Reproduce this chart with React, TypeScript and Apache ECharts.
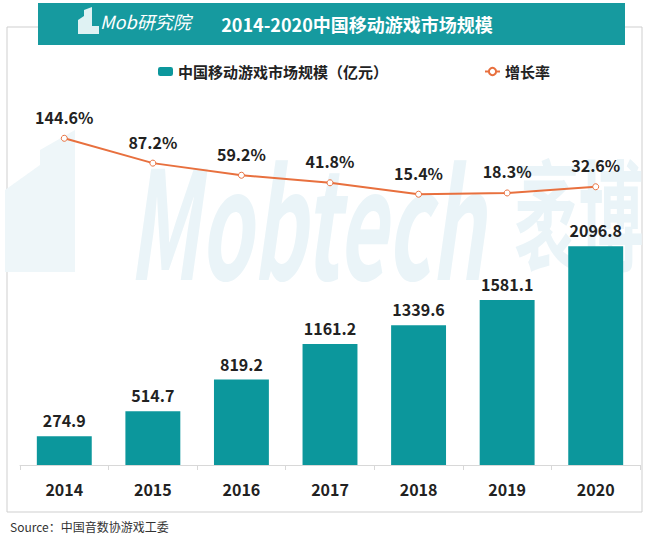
import React, { useEffect, useRef } from "react";
import * as echarts from "echarts";

const years = ["2014", "2015", "2016", "2017", "2018", "2019", "2020"];
const marketSize = [274.9, 514.7, 819.2, 1161.2, 1339.6, 1581.1, 2096.8];
const growthRate = [144.6, 87.2, 59.2, 41.8, 15.4, 18.3, 32.6];
const barName = "中国移动游戏市场规模（亿元）";
const lineName = "增长率";
const titleText = "2014-2020中国移动游戏市场规模";
const sourceText = "Source：中国音数协游戏工委";

const FONT = "'Noto Sans CJK SC', 'Noto Sans', sans-serif";
const TEAL = "#0c979c";
const ORANGE = "#e8703e";

export default function App() {
  const ref = useRef<HTMLDivElement>(null);
  useEffect(() => {
    if (!ref.current) return;
    const chart = echarts.init(ref.current, undefined, { renderer: "svg" });
    chart.setOption({
      animation: false,
      backgroundColor: "#ffffff",
      textStyle: { fontFamily: FONT },
      graphic: [
        {
          type: "rect",
          z: -10,
          shape: { x: 7, y: 27, width: 635, height: 485 },
          style: { fill: "#fff", stroke: "#cfcfcf", lineWidth: 1 },
        },
        {
          type: "polygon",
          z: -5,
          shape: { points: [[5, 272], [5, 190], [40, 165], [40, 150], [75, 130], [75, 272]] },
          style: { fill: "#eef6f9" },
        },
        {
          type: "text",
          z: -5,
          x: 128,
          y: 140,
          scaleX: 0.56,
          style: {
            text: "Mobtech",
            fontSize: 150,
            fontWeight: "bold",
            fontStyle: "italic",
            fontFamily: FONT,
            fill: "#eaf4f8",
          },
        },
        {
          type: "text",
          z: -5,
          x: 514,
          y: 150,
          scaleX: 0.54,
          style: {
            text: "袤博",
            fontSize: 120,
            fontWeight: "bold",
            fontFamily: FONT,
            fill: "#eaf4f8",
          },
        },
        {
          type: "rect",
          z: 5,
          shape: { x: 38, y: 3, width: 587, height: 42 },
          style: { fill: "#169a9f" },
        },
        {
          type: "polygon",
          z: 6,
          shape: { points: [[78, 34], [78, 20], [84, 16], [84, 10], [92, 7], [92, 34]] },
          style: { fill: "#dff2f3" },
        },
        {
          type: "rect",
          z: 6,
          shape: { x: 92, y: 26, width: 7, height: 8 },
          style: { fill: "#dff2f3" },
        },
        {
          type: "text",
          z: 6,
          x: 100,
          y: 12,
          style: {
            text: "Mob研究院",
            fontSize: 18,
            fontStyle: "italic",
            fontFamily: FONT,
            fill: "#ffffff",
          },
        },
        {
          type: "text",
          z: 6,
          x: 357,
          y: 24,
          style: {
            text: titleText,
            fontSize: 18,
            fontWeight: "bold",
            fontFamily: FONT,
            fill: "#ffffff",
            align: "center",
            verticalAlign: "middle",
          },
        },
        {
          type: "text",
          x: 10,
          y: 520,
          style: {
            text: sourceText,
            fontSize: 12,
            fontFamily: FONT,
            fill: "#333",
          },
        },
      ],
      legend: {
        top: 59,
        left: 153,
        itemGap: 96,
        itemWidth: 15,
        itemHeight: 9,
        itemTextGap: 3,
        textStyle: { fontSize: 15, fontWeight: "bold", color: "#222", fontFamily: FONT },
        data: [barName, lineName],
      },
      grid: { left: 20, right: 10, top: 100, bottom: 80 },
      xAxis: {
        type: "category",
        data: years,
        axisLine: { lineStyle: { color: "#d8d8d8" } },
        axisTick: { show: true, lineStyle: { color: "#d8d8d8" } },
        axisLabel: { fontSize: 16, fontWeight: "bold", color: "#222", margin: 16, fontFamily: FONT },
      },
      yAxis: [
        { type: "value", min: 0, max: 3500, show: false, splitLine: { show: false } },
        { type: "value", min: -610, max: 233, show: false, splitLine: { show: false } },
      ],
      series: [
        {
          name: barName,
          type: "bar",
          data: marketSize,
          barWidth: "62%",
          itemStyle: { color: TEAL },
          label: {
            show: true,
            position: "top",
            distance: 8,
            fontSize: 16,
            fontWeight: "bold",
            color: "#222",
            fontFamily: FONT,
          },
        },
        {
          name: lineName,
          type: "line",
          yAxisIndex: 1,
          data: growthRate,
          symbol: "circle",
          symbolSize: 6,
          itemStyle: { color: "#fff", borderColor: ORANGE, borderWidth: 1 },
          lineStyle: { color: ORANGE, width: 2 },
          label: {
            show: true,
            position: "top",
            distance: 10,
            fontSize: 16,
            fontWeight: "bold",
            color: "#222",
            fontFamily: FONT,
            formatter: (p: any) => p.value.toFixed(1) + "%",
          },
        },
      ],
    });
    return () => chart.dispose();
  }, []);
  return (
    <div
      ref={ref}
      style={{ position: "fixed", left: 0, top: 0, width: 650, height: 545 }}
    />
  );
}
